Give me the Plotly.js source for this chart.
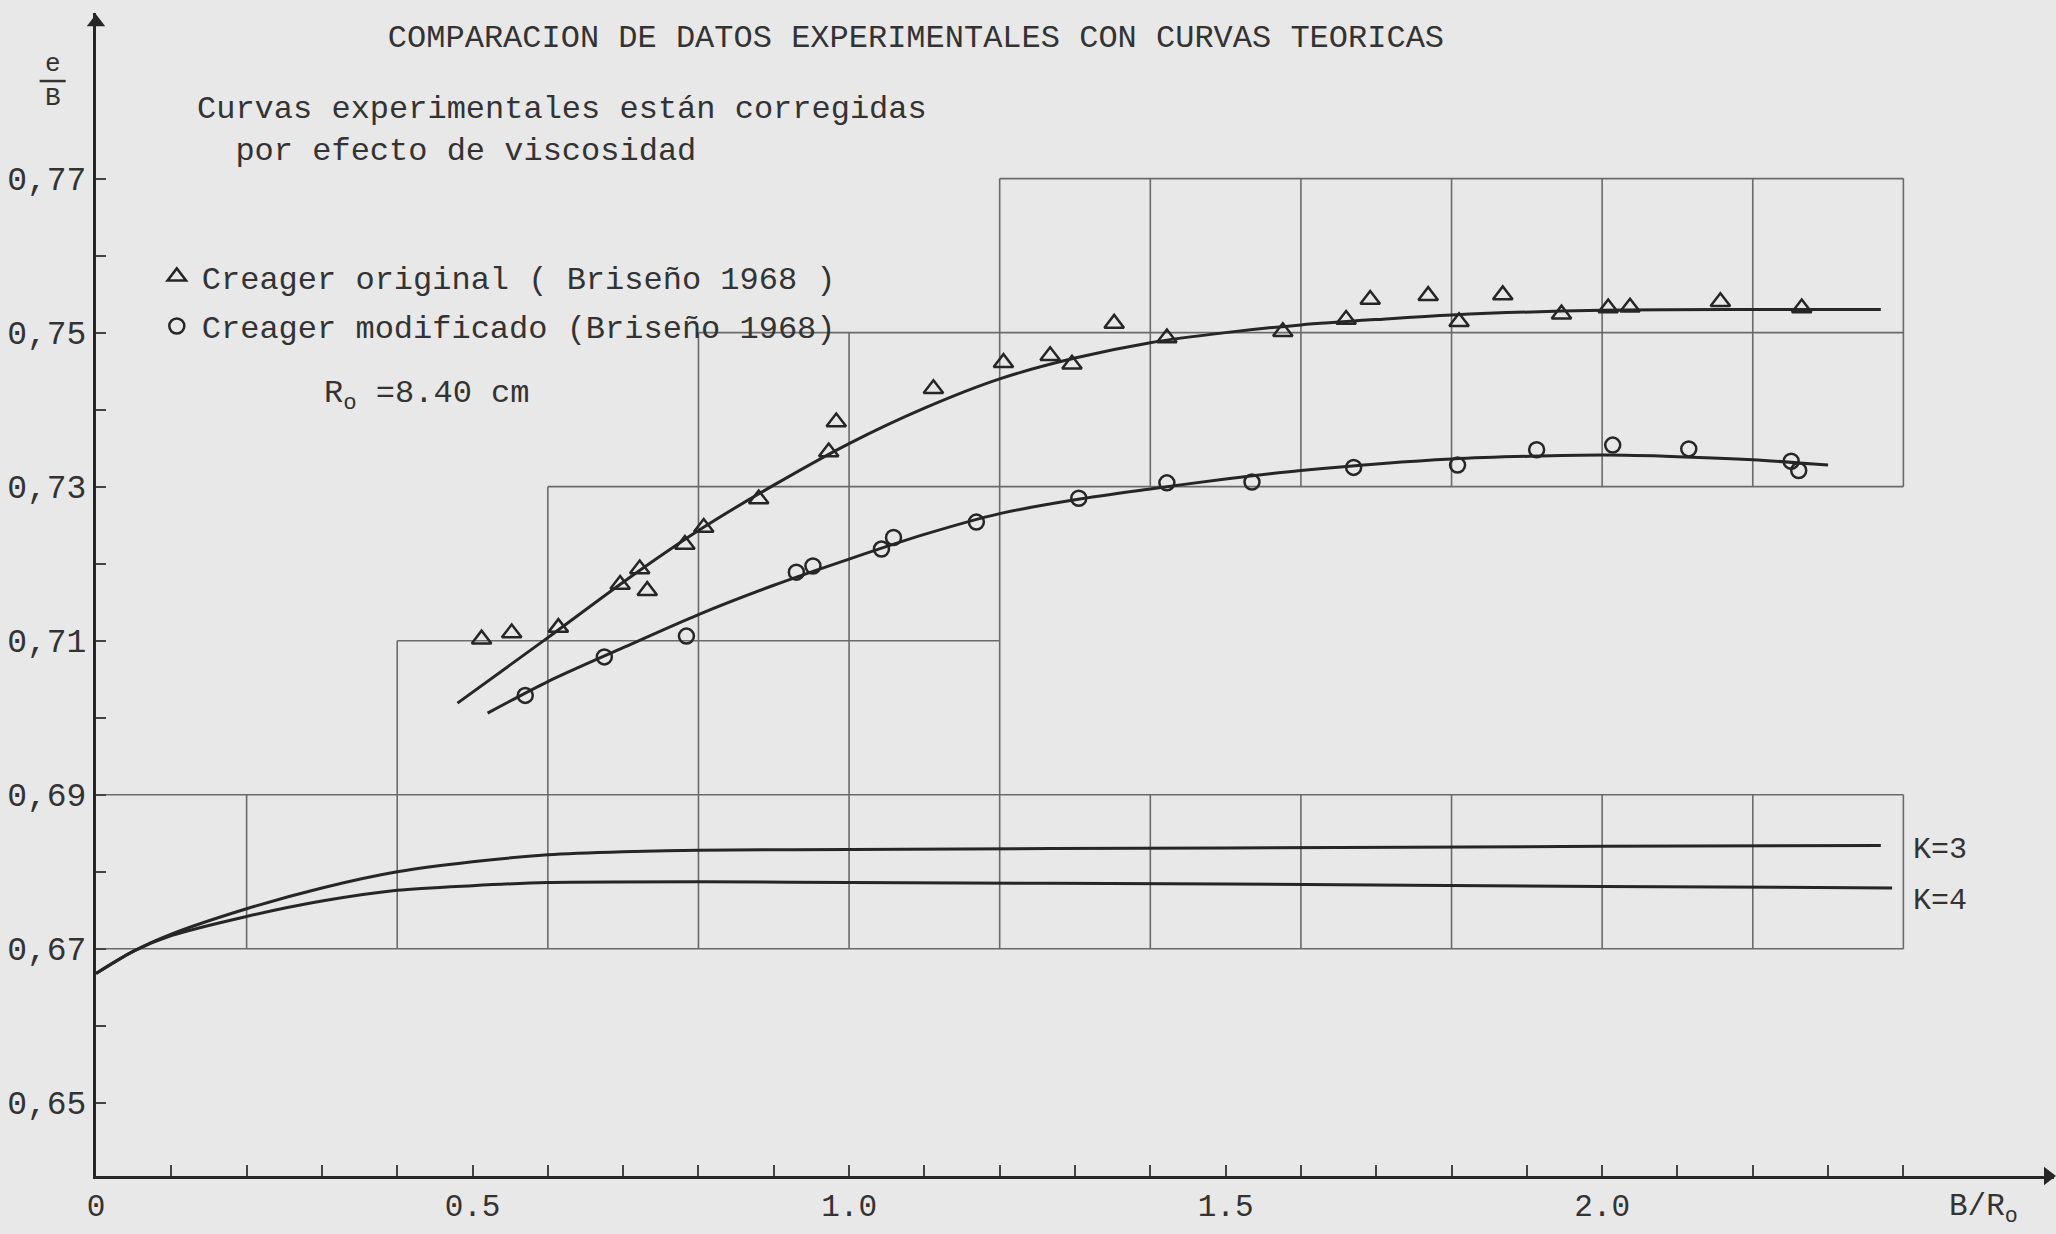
<!DOCTYPE html>
<html>
<head>
<meta charset="utf-8">
<script src="https://cdn.plot.ly/plotly-3.0.1.min.js"></script>
<style>
html,body{margin:0;padding:0;background:#e8e8e8;}
#chart{width:2056px;height:1234px;}
</style>
</head>
<body>
<div id="chart"></div>
<script>
// ---- data ----
const origX = [0.512,0.552,0.614,0.696,0.722,0.732,0.782,0.807,0.880,0.973,0.983,1.112,1.205,1.267,1.296,1.352,1.422,1.576,1.660,1.692,1.769,1.810,1.868,1.946,2.008,2.037,2.157,2.265];
const origY = [0.7102,0.7110,0.7117,0.7173,0.7193,0.7165,0.7225,0.7247,0.7284,0.7345,0.7384,0.7427,0.7461,0.7470,0.7459,0.7512,0.7493,0.7501,0.7517,0.7543,0.7548,0.7514,0.7549,0.7524,0.7532,0.7533,0.7540,0.7532];

const modX = [0.570,0.675,0.784,0.930,0.952,1.043,1.059,1.169,1.305,1.422,1.535,1.670,1.808,1.913,2.014,2.115,2.251,2.261];
const modY = [0.7029,0.7079,0.7106,0.7189,0.7197,0.7219,0.7234,0.7254,0.7285,0.7305,0.7306,0.7325,0.7328,0.7348,0.7354,0.7349,0.7333,0.7321];

const origFitX = [0.48,0.6,0.7,0.8,0.9,1.0,1.1,1.2,1.3,1.4,1.5,1.6,1.7,1.8,2.0,2.2,2.37];
const origFitY = [0.7019,0.7104,0.7176,0.7243,0.7302,0.7356,0.7402,0.7440,0.7467,0.7487,0.7500,0.7510,0.7517,0.7523,0.7529,0.7530,0.7530];

const modFitX = [0.52,0.6,0.7,0.8,0.9,1.0,1.1,1.2,1.3,1.4,1.5,1.6,1.8,2.0,2.1,2.2,2.3];
const modFitY = [0.7006,0.7047,0.7091,0.7134,0.7172,0.7206,0.7238,0.7265,0.7283,0.7297,0.7310,0.7321,0.7336,0.7341,0.7339,0.7335,0.7328];

const k3X = [0,0.05,0.1,0.2,0.3,0.4,0.5,0.6,0.7,0.8,1.0,1.5,2.0,2.37];
const k3Y = [0.6668,0.6697,0.6719,0.6752,0.6779,0.6800,0.6813,0.6822,0.6826,0.6828,0.6829,0.6831,0.6833,0.6834];

const k4X = [0,0.05,0.1,0.2,0.3,0.4,0.5,0.6,0.8,1.0,1.5,2.0,2.385];
const k4Y = [0.6668,0.6697,0.6717,0.6742,0.6762,0.6776,0.6782,0.6786,0.6787,0.6786,0.6784,0.6781,0.6779];

// graph-paper pieces: horizontal [y, x0, x1], vertical [x, y0, y1]
const gridH = [[0.77,1.2,2.4],[0.75,0.8,2.4],[0.73,0.6,2.4],[0.71,0.4,1.2],[0.69,0,2.4],[0.67,0,2.4]];
const gridV = [[0.2,0.67,0.69],[0.4,0.67,0.71],[0.6,0.67,0.73],[0.8,0.67,0.75],[1.0,0.67,0.75],[1.2,0.67,0.77],
  [1.4,0.73,0.77],[1.6,0.73,0.77],[1.8,0.73,0.77],[2.0,0.73,0.77],[2.2,0.73,0.77],[2.4,0.73,0.77],
  [1.4,0.67,0.69],[1.6,0.67,0.69],[1.8,0.67,0.69],[2.0,0.67,0.69],[2.2,0.67,0.69],[2.4,0.67,0.69]];

const xTickVals = [0,0.1,0.2,0.3,0.4,0.5,0.6,0.7,0.8,0.9,1.0,1.1,1.2,1.3,1.4,1.5,1.6,1.7,1.8,1.9,2.0,2.1,2.2,2.3,2.4];
const xTickText = ["0","","","","","0.5","","","","","1.0","","","","","1.5","","","","","2.0","","","",""];
const yTickVals = [0.65,0.66,0.67,0.68,0.69,0.70,0.71,0.72,0.73,0.74,0.75,0.76,0.77];
const yTickText = ["0,65","","0,67","","0,69","","0,71","","0,73","","0,75","","0,77"];

const titleText = "COMPARACION DE DATOS EXPERIMENTALES CON CURVAS TEORICAS";
const noteLines = ["Curvas experimentales están corregidas", "\u00a0\u00a0por efecto de viscosidad"];
const nameOrig = "Creager original ( Briseño 1968 )";
const nameMod = "Creager modificado (Briseño 1968)";

// ---- build ----
const FONT = "Liberation Mono, Courier New, monospace";
const INK = "#262626";
const TXT = "#333";
const X_RANGE = [0, 2.6];
const Y_RANGE = [0.6405, 0.7915];

const gx = [], gy = [];
gridH.forEach(s => { gx.push(s[1], s[2], null); gy.push(s[0], s[0], null); });
gridV.forEach(s => { gx.push(s[0], s[0], null); gy.push(s[1], s[2], null); });

const curve = {color: INK, width: 3, shape: 'spline', smoothing: 0.8};
const traces = [
  {x: gx, y: gy, mode: 'lines', line: {color: '#6a6a6a', width: 1.6}, showlegend: false, hoverinfo: 'skip'},
  {x: k3X, y: k3Y, mode: 'lines', line: curve, showlegend: false},
  {x: k4X, y: k4Y, mode: 'lines', line: curve, showlegend: false},
  {x: origFitX, y: origFitY, mode: 'lines', line: curve, showlegend: false},
  {x: modFitX, y: modFitY, mode: 'lines', line: curve, showlegend: false},
  {x: origX, y: origY, mode: 'markers', name: nameOrig, legendgroup: 'a',
   marker: {symbol: 'triangle-up-open', size: 17, color: INK, line: {width: 2.5, color: INK}}},
  {x: modX, y: modY, mode: 'markers', name: nameMod, legendgroup: 'b',
   marker: {symbol: 'circle-open', size: 15, color: INK, line: {width: 2.5, color: INK}}},
  // arrow heads at the ends of both axes
  {x: [X_RANGE[1] - 0.008, X_RANGE[0]], y: [Y_RANGE[0], Y_RANGE[1] - 0.0012], mode: 'markers', showlegend: false,
   cliponaxis: false, hoverinfo: 'skip',
   marker: {symbol: ['triangle-right', 'triangle-up'], size: 16, color: INK}}
];

const layout = {
  width: 2056, height: 1234,
  paper_bgcolor: '#e8e8e8', plot_bgcolor: '#e8e8e8',
  margin: {l: 96, r: 2, t: 13, b: 58},
  font: {family: FONT, size: 31, color: TXT},
  title: {text: titleText, x: 0.4455, xanchor: 'center', y: 0.9708, yanchor: 'middle', xref: 'container', yref: 'container',
          font: {family: FONT, size: 32, color: TXT}},
  showlegend: true,
  legend: {x: 0.0285, y: 0.797, xanchor: 'left', yanchor: 'top', bgcolor: 'rgba(0,0,0,0)',
           font: {family: FONT, size: 32, color: TXT}, tracegroupgap: 5, itemwidth: 40},
  xaxis: {range: X_RANGE, showgrid: false, zeroline: false, showline: true, linecolor: INK, linewidth: 3,
          ticks: 'inside', ticklen: 11, tickwidth: 2, tickcolor: '#444', tickmode: 'array',
          tickvals: xTickVals, ticktext: xTickText, tickfont: {family: FONT, size: 31, color: TXT}, automargin: false},
  yaxis: {range: Y_RANGE, showgrid: false, zeroline: false, showline: true, linecolor: INK, linewidth: 3,
          ticks: 'inside', ticklen: 10, tickwidth: 2, tickcolor: '#444', tickmode: 'array',
          tickvals: yTickVals, ticktext: yTickText, tickfont: {family: FONT, size: 33, color: TXT}, automargin: false},
  annotations: [
    {xref: 'x', yref: 'y', x: 0.132, y: 0.7762, xanchor: 'left', yanchor: 'middle', align: 'left', showarrow: false,
     text: noteLines.join('<br>'), font: {family: FONT, size: 32, color: TXT}},
    {xref: 'x', yref: 'y', x: 0.300, y: 0.7418, xanchor: 'left', yanchor: 'middle', showarrow: false,
     text: 'R<sub>o</sub> =8.40 cm', font: {family: FONT, size: 32, color: TXT}},
    {xref: 'x', yref: 'y', x: 2.41, y: 0.6828, xanchor: 'left', yanchor: 'middle', showarrow: false,
     text: 'K=3', font: {family: FONT, size: 30, color: TXT}},
    {xref: 'x', yref: 'y', x: 2.41, y: 0.6762, xanchor: 'left', yanchor: 'middle', showarrow: false,
     text: 'K=4', font: {family: FONT, size: 30, color: TXT}},
    {xref: 'paper', yref: 'paper', x: 0.9455, y: -0.028, xanchor: 'left', yanchor: 'middle', showarrow: false,
     text: 'B/R<sub>o</sub>', font: {family: FONT, size: 31, color: TXT}},
    {xref: 'paper', yref: 'paper', x: -0.022, y: 0.9415, xanchor: 'center', yanchor: 'middle', showarrow: false,
     text: 'e<br>B', font: {family: FONT, size: 26, color: TXT}}
  ],
  shapes: [
    {type: 'line', xref: 'paper', yref: 'paper', x0: -0.0288, x1: -0.0155, y0: 0.9415, y1: 0.9415,
     line: {color: TXT, width: 2.5}}
  ]
};

Plotly.newPlot('chart', traces, layout, {displayModeBar: false, staticPlot: true});
</script>
</body>
</html>
